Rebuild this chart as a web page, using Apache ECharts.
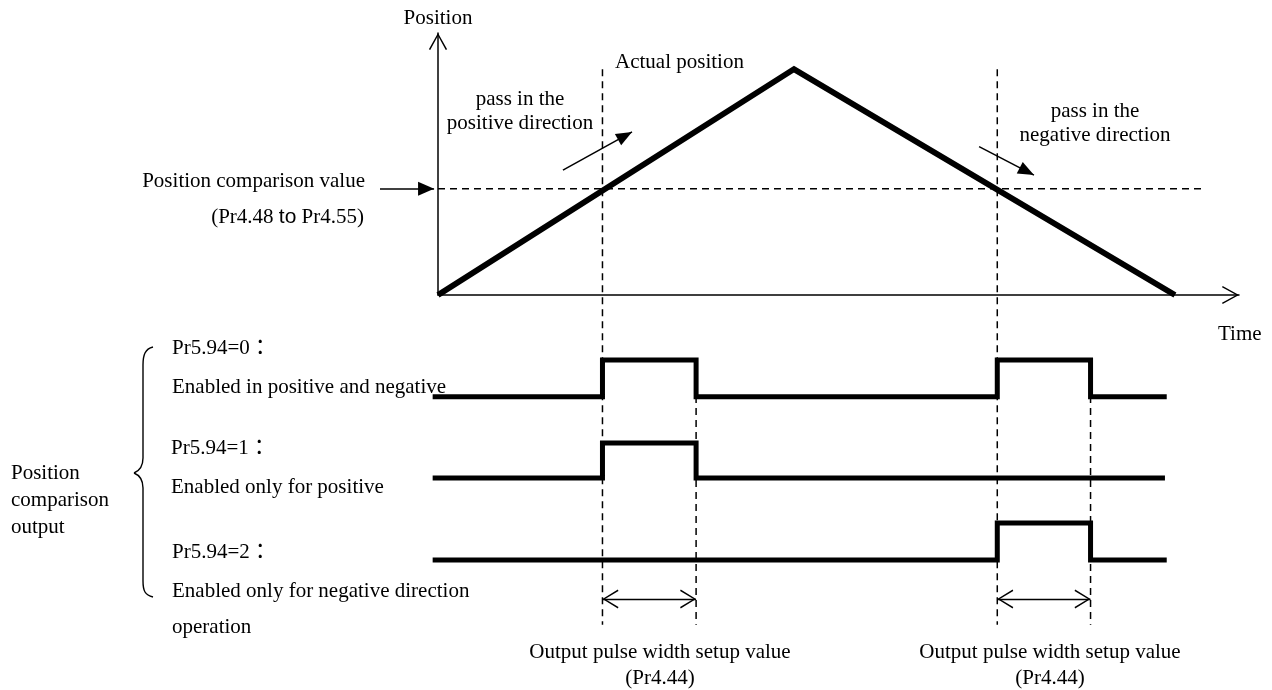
<!DOCTYPE html>
<html>
<head>
<meta charset="utf-8">
<script src="https://cdn.jsdelivr.net/npm/echarts@6/dist/echarts.min.js"></script>
<style>
html,body{margin:0;padding:0;background:#fff;}
#chart{width:1272px;height:690px;}
</style>
</head>
<body>
<div id="chart"></div>
<script>
// ---------------- data ----------------
// Actual position profile (time units, position units)
const positionTimes  = [0, 100, 207];
const positionValues = [0, 100, 0];
const positionMax = 116;
const timeMax = 225;
// Position comparison value (Pr4.48 to Pr4.55)
const compareValue = 47;
const compareLineEnd = 214.9;
// Times when the actual position passes the comparison value, and pulse ends (Pr4.44)
const crossTimes    = [46.2, 157.1];
const pulseEndTimes = [72.5, 183.3];
// Output signals (step levels: 0 = low, 1 = high)
const sigBothTimes  = [-1.5, 46.2, 72.5, 157.1, 183.3, 204.7];
const sigBothLevels = [0, 1, 0, 1, 0, 0];
const sigPosTimes   = [-1.5, 46.2, 72.5, 204.2];
const sigPosLevels  = [0, 1, 0, 0];
const sigNegTimes   = [-1.5, 157.1, 183.3, 204.7];
const sigNegLevels  = [0, 1, 0, 0];
// Guide lines / arrows in position units on the extended overlay scale
const guideCrossTop = 100;
const guidePulseTop = -44.7;
const guideBottom = -146;
const pulseArrowLevel = -134.6;
const compareArrowTimes = [-16.3, -1.1];
const posDirArrowTimes  = [35.1, 54.5];
const posDirArrowValues = [55.3, 72.2];
const negDirArrowTimes  = [152, 167.4];
const negDirArrowValues = [65.7, 53.1];
// Texts
const signalLabels = ['Pr5.94=0：', 'Pr5.94=1：', 'Pr5.94=2：'];
const signalDescriptions = ['Enabled in positive and negative', 'Enabled only for positive', 'Enabled only for negative direction', 'operation'];
const groupLabel = ['Position', 'comparison', 'output'];
const pulseWidthLabel = ['Output pulse width setup value', '(Pr4.44)'];

// ---------------- helpers ----------------
const zip = (a, b) => a.map((v, i) => [v, b[i]]);
const FONT = '"Liberation Serif", "Times New Roman", "Noto Sans CJK JP", serif';
const CHEV = 'path://M0,17 L9.5,0 L19,17 L17.6,17.7 L9.5,2.9 L1.4,17.7 Z';
const BLACK = '#000';

function T(text, x, y, align, rich) {
  const st = {
    legacy: false,
    text: text, font: '21px ' + FONT, fill: BLACK,
    align: align || 'left', verticalAlign: 'middle'
  };
  if (rich) st.rich = rich;
  return { type: 'text', x: x, y: y, silent: true, style: st };
}
function bez(x1, y1, c1x, c1y, c2x, c2y, x2, y2) {
  return { type: 'bezierCurve', silent: true,
    shape: { x1: x1, y1: y1, cpx1: c1x, cpy1: c1y, cpx2: c2x, cpy2: c2y, x2: x2, y2: y2 },
    style: { stroke: BLACK, lineWidth: 1.4, fill: null } };
}
function seg(x1, y1, x2, y2) {
  return { type: 'line', silent: true, shape: { x1: x1, y1: y1, x2: x2, y2: y2 },
    style: { stroke: BLACK, lineWidth: 1.4 } };
}

const hiddenAxis = (gi, min, max) => ({ gridIndex: gi, type: 'value', min: min, max: max, show: false });
const axisLineArrow = {
  show: true, onZero: true,
  lineStyle: { color: BLACK, width: 1.5 },
  symbol: ['none', CHEV], symbolSize: [20, 17], symbolOffset: [0, -8.5]
};

const guideSeries = [];
crossTimes.forEach(t => guideSeries.push([[t, guideCrossTop], [t, guideBottom]]));
pulseEndTimes.forEach(t => guideSeries.push([[t, guidePulseTop], [t, guideBottom]]));

const solid = { type: 'solid', color: BLACK, width: 1.5 };

const option = {
  animation: false,
  backgroundColor: '#fff',
  grid: [
    { left: 438, right: 33, top: 33, bottom: 395 },          // position plot
    { left: 366.8, right: 33, top: 33, bottom: 56.2 },       // overlay (guides, arrows)
    { left: 430.88, right: 33, top: 360, bottom: 293.3 },    // Pr5.94=0
    { left: 430.88, right: 33, top: 443, bottom: 212 },      // Pr5.94=1
    { left: 430.88, right: 33, top: 523, bottom: 130 }       // Pr5.94=2
  ],
  xAxis: [
    { gridIndex: 0, type: 'value', min: 0, max: timeMax,
      axisLine: axisLineArrow, axisTick: { show: false }, axisLabel: { show: false }, splitLine: { show: false } },
    hiddenAxis(1, -20, timeMax),
    hiddenAxis(2, -2, timeMax),
    hiddenAxis(3, -2, timeMax),
    hiddenAxis(4, -2, timeMax)
  ],
  yAxis: [
    { gridIndex: 0, type: 'value', min: 0, max: positionMax,
      name: 'Position', nameLocation: 'end', nameGap: 4,
      nameTextStyle: { fontFamily: FONT, fontSize: 21, color: BLACK },
      axisLine: axisLineArrow, axisTick: { show: false }, axisLabel: { show: false }, splitLine: { show: false } },
    hiddenAxis(1, -150, positionMax),
    hiddenAxis(2, 0, 1),
    hiddenAxis(3, 0, 1),
    hiddenAxis(4, 0, 1)
  ],
  series: [
    { name: 'Actual position', type: 'line', xAxisIndex: 0, yAxisIndex: 0,
      data: zip(positionTimes, positionValues), symbol: 'none', clip: false, silent: true,
      lineStyle: { color: BLACK, width: 5.8, join: 'miter', cap: 'butt' } },
    { name: 'Position comparison value', type: 'line', xAxisIndex: 0, yAxisIndex: 0,
      data: [[0, compareValue], [compareLineEnd, compareValue]], symbol: 'none', clip: false, silent: true,
      lineStyle: { color: BLACK, width: 1.5, type: [7, 5] } },
    ...guideSeries.map((d, i) => ({
      name: 'guide' + i, type: 'line', xAxisIndex: 1, yAxisIndex: 1, data: d,
      symbol: 'none', clip: false, silent: true, z: 1,
      lineStyle: { color: BLACK, width: 1.5, type: [7, 5] }
    })),
    { name: 'arrows', type: 'line', xAxisIndex: 1, yAxisIndex: 1, data: [], silent: true,
      markLine: {
        silent: true, animation: false,
        label: { show: false }, emphasis: { disabled: true },
        symbolOffset: [[0, '50%'], [0, '50%']],
        data: [
          [ { coord: [compareArrowTimes[0], compareValue], symbol: 'none', lineStyle: solid },
            { coord: [compareArrowTimes[1], compareValue], symbol: 'triangle', symbolSize: [14, 16] } ],
          [ { coord: [posDirArrowTimes[0], posDirArrowValues[0]], symbol: 'none', lineStyle: solid },
            { coord: [posDirArrowTimes[1], posDirArrowValues[1]], symbol: 'triangle', symbolSize: [13, 16] } ],
          [ { coord: [negDirArrowTimes[0], negDirArrowValues[0]], symbol: 'none', lineStyle: solid },
            { coord: [negDirArrowTimes[1], negDirArrowValues[1]], symbol: 'triangle', symbolSize: [13, 16] } ],
          [ { coord: [crossTimes[0], pulseArrowLevel], symbol: CHEV, symbolSize: [19, 16], lineStyle: { type: 'solid', color: BLACK, width: 1.3 } },
            { coord: [pulseEndTimes[0], pulseArrowLevel], symbol: CHEV, symbolSize: [19, 16] } ],
          [ { coord: [crossTimes[1], pulseArrowLevel], symbol: CHEV, symbolSize: [19, 16], lineStyle: { type: 'solid', color: BLACK, width: 1.3 } },
            { coord: [pulseEndTimes[1], pulseArrowLevel], symbol: CHEV, symbolSize: [19, 16] } ]
        ],
        lineStyle: { type: 'solid', color: BLACK, width: 1.5 }
      } },
    { name: signalLabels[0], type: 'line', xAxisIndex: 2, yAxisIndex: 2, step: 'end',
      data: zip(sigBothTimes, sigBothLevels), symbol: 'none', clip: false, silent: true,
      lineStyle: { color: BLACK, width: 5, join: 'miter', cap: 'butt' } },
    { name: signalLabels[1], type: 'line', xAxisIndex: 3, yAxisIndex: 3, step: 'end',
      data: zip(sigPosTimes, sigPosLevels), symbol: 'none', clip: false, silent: true,
      lineStyle: { color: BLACK, width: 5, join: 'miter', cap: 'butt' } },
    { name: signalLabels[2], type: 'line', xAxisIndex: 4, yAxisIndex: 4, step: 'end',
      data: zip(sigNegTimes, sigNegLevels), symbol: 'none', clip: false, silent: true,
      lineStyle: { color: BLACK, width: 5, join: 'miter', cap: 'butt' } }
  ],
  graphic: [
    T('Position comparison value', 365, 181, 'right'),
    T('(Pr4.48 {s|to} Pr4.55)', 364, 217, 'right',
      { s: { fontFamily: '"Liberation Sans", Arial, sans-serif', fontSize: 21, fill: BLACK } }),
    T('pass in the', 520, 99, 'center'),
    T('positive direction', 520, 123, 'center'),
    T('Actual position', 615, 62, 'left'),
    T('pass in the', 1095, 111, 'center'),
    T('negative direction', 1095, 135, 'center'),
    T('Time', 1218, 334, 'left'),
    T(signalLabels[0], 172, 348, 'left'),
    T(signalDescriptions[0], 172, 387, 'left'),
    T(signalLabels[1], 171, 448, 'left'),
    T(signalDescriptions[1], 171, 487, 'left'),
    T(signalLabels[2], 172, 552, 'left'),
    T(signalDescriptions[2], 172, 591, 'left'),
    T(signalDescriptions[3], 172, 627, 'left'),
    T(groupLabel[0], 11, 473, 'left'),
    T(groupLabel[1], 11, 500, 'left'),
    T(groupLabel[2], 11, 527, 'left'),
    T(pulseWidthLabel[0], 660, 652, 'center'),
    T(pulseWidthLabel[1], 660, 678, 'center'),
    T(pulseWidthLabel[0], 1050, 652, 'center'),
    T(pulseWidthLabel[1], 1050, 678, 'center'),
    // curly brace
    bez(153, 347, 145, 349, 143, 355, 143, 365),
    seg(143, 365, 143, 458),
    bez(143, 458, 143, 466, 139, 471, 134, 473),
    bez(134, 473, 139, 475, 143, 480, 143, 488),
    seg(143, 488, 143, 581),
    bez(143, 581, 143, 591, 145, 595, 153, 597)
  ]
};

const chart = echarts.init(document.getElementById('chart'), null, { renderer: 'canvas' });
chart.setOption(option);
</script>
</body>
</html>
